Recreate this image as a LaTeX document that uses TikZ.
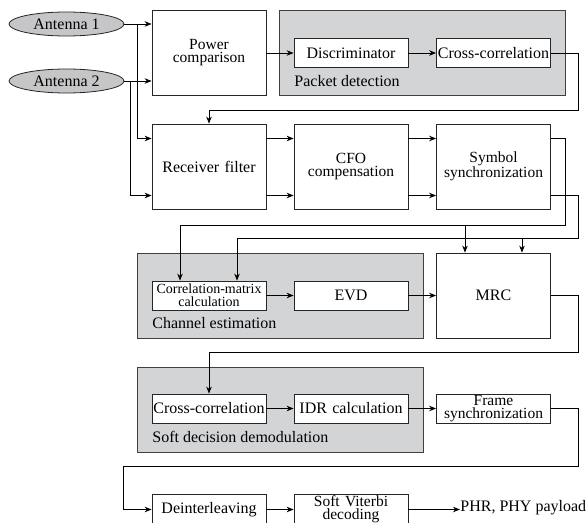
\documentclass[tikz,border=0pt]{standalone}
\usepackage{fontspec}
\setmainfont{Liberation Serif}
\usepackage{xcolor}
\usetikzlibrary{positioning,arrows.meta,shapes.geometric}
\definecolor{groupgray}{RGB}{211,212,214}
\definecolor{antgray}{RGB}{198,198,200}
\newcommand\twolinefont{\fontsize{15.5}{13}\selectfont}

\begin{document}
\begin{tikzpicture}[x=1pt,y=-1pt,>={Stealth[length=7pt,width=5.5pt]},line width=0.8pt,
        font=\fontsize{16}{13}\selectfont,
        bigbox/.style={draw=black!85,fill=white,minimum width=114pt,minimum height=85pt,text width=112pt,align=center,inner sep=0pt},
        smallbox/.style={draw=black!85,fill=white,minimum width=114pt,minimum height=29pt,text width=112pt,align=center,inner sep=0pt},
        group/.style={draw=black!75,fill=groupgray,minimum width=286pt,minimum height=85pt,inner sep=0pt},
        grouplabel/.style={anchor=west,inner sep=0pt},
        antenna/.style={ellipse,draw=black!85,fill=antgray,minimum width=115pt,minimum height=24pt,inner sep=0pt}]
    \useasboundingbox (0,0) rectangle (586,522);
    \node [antenna] (ant1) at (66.5,24) {Antenna 1};
    \node [antenna] (ant2) at (66.5,81) {Antenna 2};
    \node [bigbox] (power) at (209,53) {\twolinefont Power\\comparison};
    \node [group] (pdgroup) at (422.5,53) {};
    \node [smallbox] (discr) at (351,53) {Discriminator};
    \node [smallbox] (xcorr1) at (493.5,53) {Cross-correlation};
    \node [grouplabel] (pdlabel) at (294,81) {Packet detection};

    \node [bigbox] (rxfilter) at (209,166.5) {Receiver filter};
    \node [bigbox] (cfo) at (351,166.5) {\twolinefont CFO\\compensation};
    \node [bigbox] (symsync) at (493.5,166.5) {\twolinefont Symbol\\synchronization};

    \node [group] (cegroup) at (280,295.5) {};
    \node [smallbox] (corrmat) at (209,295.5) {\fontsize{14}{12}\selectfont Correlation-matrix\\calculation};
    \node [smallbox] (evd) at (351,295.5) {EVD};
    \node [grouplabel] (celabel) at (152,323) {Channel estimation};
    \node [bigbox] (mrc) at (493.5,295.5) {MRC};

    \node [group] (sdgroup) at (280,409.5) {};
    \node [smallbox] (xcorr2) at (209,408.5) {Cross-correlation};
    \node [smallbox] (idr) at (351,408.5) {IDR calculation};
    \node [smallbox] (framesync) at (493.5,408.5) {\twolinefont Frame\\synchronization};
    \node [grouplabel] (sdlabel) at (152,437) {Soft decision demodulation};

    \node [smallbox,minimum height=31pt] (deint) at (209,509.5) {Deinterleaving};
    \node [smallbox,minimum height=31pt] (viterbi) at (351,509.5) {\twolinefont Soft Viterbi\\decoding};
    \node [grouplabel] (payload) at (460,508) {PHR, PHY payload};

    \draw [->] (ant1.east) -- (ant1.east -| power.west);
    \draw [->] (ant2.east) -- (ant2.east -| power.west);
    \draw [->] (ant1.east) -- ++(13,0) |- ([yshift=28pt]rxfilter.west);
    \draw [->] (ant2.east) -- ++(6,0) |- ([yshift=-29pt]rxfilter.west);
    \draw [->] (power) -- (discr);
    \draw [->] (discr) -- (xcorr1);
    \draw [->] (xcorr1.east) -- ++(27,0) -- ++(0,57) -| (rxfilter.north);

    \draw [->] ([yshift=28pt]rxfilter.east) -- ([yshift=28pt]cfo.west);
    \draw [->] ([yshift=-29pt]rxfilter.east) -- ([yshift=-29pt]cfo.west);
    \draw [->] ([yshift=28pt]cfo.east) -- ([yshift=28pt]symsync.west);
    \draw [->] ([yshift=-29pt]cfo.east) -- ([yshift=-29pt]symsync.west);
    \draw [->] ([yshift=28pt]symsync.east) -- ++(14,0) -- ++(0,87) coordinate (symup)
        -| ([xshift=-29pt]corrmat.north);
    \draw [->] ([yshift=-29pt]symsync.east) -- ++(27,0) -- ++(0,43) coordinate (symlow)
        -| ([xshift=28pt]corrmat.north);
    \draw [->] ([xshift=-28.5pt]mrc.north |- symup) -- ([xshift=-28.5pt]mrc.north);
    \draw [->] ([xshift=28.5pt]mrc.north |- symlow) -- ([xshift=28.5pt]mrc.north);

    \draw [->] (corrmat) -- (evd);
    \draw [->] (evd) -- (mrc);
    \draw [->] (mrc.east) -- ++(27,0) -- ++(0,57) -| (xcorr2.north);

    \draw [->] (xcorr2) -- (idr);
    \draw [->] (idr) -- (framesync);
    \draw [->] (framesync.east) -- ++(27,0) -- ++(0,58) -- ++(-455,0) |- (deint.west);
    \draw [->] (deint) -- (viterbi);
    \draw [->] (viterbi.east) -- (viterbi.east -| payload.west);
\end{tikzpicture}
\end{document}
